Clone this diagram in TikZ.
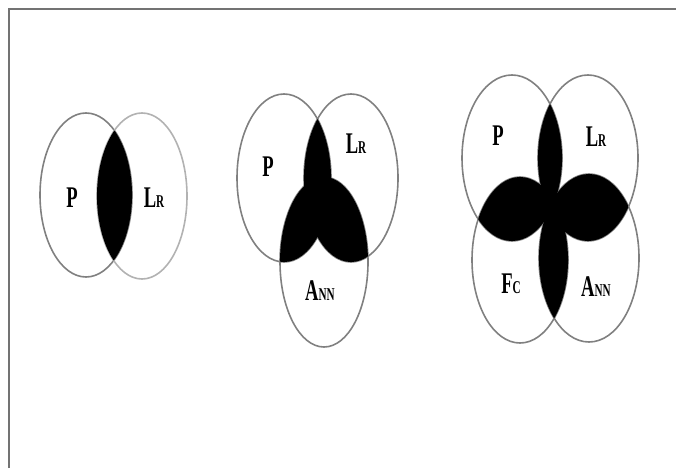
\documentclass[tikz,border=0pt]{standalone}
\usepackage{graphicx}
\usepackage{fontspec}
\setmainfont{Liberation Serif}

% set labels: a tall capital followed by smaller capitals, condensed
\newcommand\capA[1]{{\fontsize{30}{30}\selectfont #1}}
\newcommand\capB[1]{{\fontsize{18}{18}\selectfont #1}}
\newcommand\setlbl[2]{\scalebox{0.62}[1]{\bfseries\capA{#1}\capB{#2}}}

% the sets, as ellipse paths
\def\oneP{(86,195) ellipse [x radius=46pt, y radius=82pt]}
\def\oneL{(142,196) ellipse [x radius=45pt, y radius=83pt]}
\def\twoP{(284,178) ellipse [x radius=47pt, y radius=84pt]}
\def\twoL{(351,178) ellipse [x radius=47pt, y radius=84pt]}
\def\twoA{(324,262) ellipse [x radius=44pt, y radius=85pt]}
\def\thrP{(512,158) ellipse [x radius=50pt, y radius=83pt]}
\def\thrL{(588,158) ellipse [x radius=50pt, y radius=83pt]}
\def\thrF{(520,260) ellipse [x radius=48pt, y radius=83pt]}
\def\thrA{(589,258) ellipse [x radius=50pt, y radius=84pt]}

% black fill of the overlap of two sets
\newcommand\overlap[2]{\begin{scope}\clip #1; \fill[black] #2; \end{scope}}

\tikzset{
  setline/.style={draw=black!50, line width=1.6pt},
  faintline/.style={draw=black!30, line width=1.6pt},
  framestyle/.style={draw=black!55, line width=2pt},
  setname/.style={inner sep=0pt, anchor=base}
}

\begin{document}
\begin{tikzpicture}[x=1pt, y=-1pt]
\useasboundingbox (0,0) rectangle (676,468);

% page frame (top and left edges)
\draw[framestyle] (8.5,468) -- (8.5,9.5) -- (676,9.5);

% two sets: outlines, then the shared part in black
\draw[setline] \oneP;
\draw[faintline] \oneL;
\overlap{\oneP}{\oneL}
\node[setname] (p1) at (72,207) {\setlbl{P}{}};
\node[setname] (l1) at (154,207) {\setlbl{L}{R}};

% three sets
\draw[setline] \twoP;
\draw[setline] \twoL;
\draw[setline] \twoA;
\overlap{\twoP}{\twoL}
\overlap{\twoP}{\twoA}
\overlap{\twoL}{\twoA}
\node[setname] (p2) at (268,176) {\setlbl{P}{}};
\node[setname] (l2) at (356,153) {\setlbl{L}{R}};
\node[setname] (a2) at (320,300) {\setlbl{A}{NN}};

% four sets
\draw[setline] \thrP;
\draw[setline] \thrL;
\draw[setline] \thrF;
\draw[setline] \thrA;
\overlap{\thrP}{\thrL}
\overlap{\thrP}{\thrF}
\overlap{\thrL}{\thrA}
\overlap{\thrF}{\thrA}
\overlap{\thrP}{\thrA}
\overlap{\thrL}{\thrF}
\node[setname] (p3) at (498,145) {\setlbl{P}{}};
\node[setname] (l3) at (596,146) {\setlbl{L}{R}};
\node[setname] (f3) at (511,293) {\setlbl{F}{C}};
\node[setname] (a3) at (596,296) {\setlbl{A}{NN}};
\end{tikzpicture}
\end{document}
